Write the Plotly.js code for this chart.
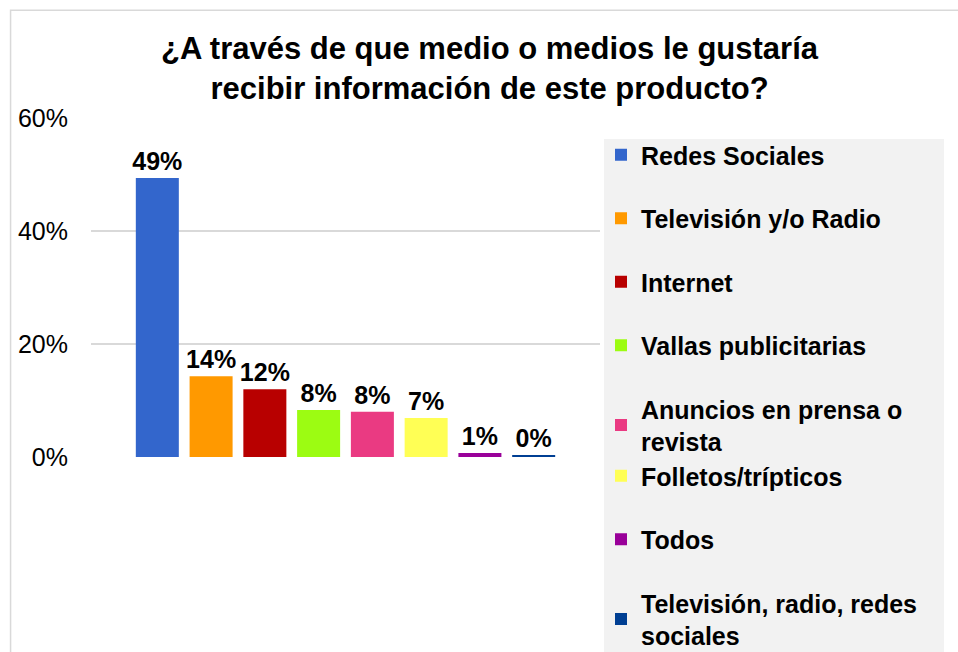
<!DOCTYPE html>
<html>
<head>
<meta charset="utf-8">
<script src="https://cdn.plot.ly/plotly-3.0.1.min.js"></script>
<style>
  html, body { margin: 0; padding: 0; background: #fff; }
  #chart { width: 958px; height: 652px; }
</style>
</head>
<body>
<div id="chart"></div>
<script>
// answers, in reading order of the legend
let categories = [
  "Redes Sociales",
  "Televisión y/o Radio",
  "Internet",
  "Vallas publicitarias",
  "Anuncios en prensa o<br>revista",
  "Folletos/trípticos",
  "Todos",
  "Televisión, radio, redes<br>sociales"
];
let percents = [49.4, 14.3, 12.0, 8.3, 8.0, 6.9, 0.7, 0.35];
let colors = ["#3366cc", "#ff9900", "#b80000", "#9cfc12", "#ea3a82", "#ffff55", "#990099", "#003f93"];
let y_ticks = [0, 20, 40, 60];
let y_tick_labels = ["0%", "20%", "40%", "60%"];

let font_family = "Liberation Sans, Arial, sans-serif";

let data = [];
for (let i = 0; i < categories.length; i++) {
  data.push({
    type: "bar",
    x: ["medio"],
    y: [percents[i]],
    name: categories[i],
    marker: { color: colors[i] },
    text: [Math.round(percents[i]) + "%"],
    textposition: "outside",
    constraintext: "none",
    cliponaxis: false,
    textfont: { family: font_family, size: 25, color: "#000", weight: "bold" },
    legendgroup: "g" + i,
    // last three answers go in a second legend so spacing stays even
    legend: i < 5 ? "legend" : "legend2",
    hoverinfo: "name+y"
  });
}

let legend_style = {
  bgcolor: "rgba(0,0,0,0)",
  font: { family: font_family, size: 25, color: "#000", weight: "bold" },
  traceorder: "grouped",
  tracegroupgap: 28,
  xref: "container",
  yref: "container",
  xanchor: "left",
  yanchor: "top",
  itemclick: false
};

var layout = {
  width: 958,
  height: 652,
  margin: { l: 91, r: 358, t: 118, b: 195 },
  paper_bgcolor: "#fff",
  plot_bgcolor: "rgba(0,0,0,0)",
  font: { family: font_family, color: "#000" },
  title: {
    text: "¿A través de que medio o medios le gustaría<br>recibir información de este producto?",
    font: { family: font_family, size: 31, color: "#000", weight: "bold" },
    xref: "container",
    yref: "container",
    x: 0.511,
    xanchor: "center",
    y: 1 - 59 / 652,
    yanchor: "top"
  },
  barmode: "group",
  bargap: 0.155,
  bargroupgap: 0.2,
  xaxis: {
    showticklabels: false,
    showgrid: false,
    zeroline: false,
    showline: false,
    ticks: ""
  },
  yaxis: {
    range: [0, 60],
    tickmode: "array",
    tickvals: y_ticks,
    ticktext: y_tick_labels,
    showgrid: true,
    gridcolor: "#d9d9d9",
    gridwidth: 1.5,
    zeroline: false,
    showline: false,
    ticks: "",
    ticklabelstandoff: 22,
    tickfont: { family: font_family, size: 25, color: "#000" }
  },
  legend: Object.assign({}, legend_style, { x: 601 / 958, y: 1 - 132 / 652 }),
  legend2: Object.assign({}, legend_style, { x: 601 / 958, y: 1 - 453 / 652 }),
  shapes: [
    {
      type: "rect",
      xref: "paper",
      yref: "paper",
      x0: -0.158,
      x1: 1.8,
      y0: -0.7,
      y1: 1.318,
      line: { color: "#d9d9d9", width: 1.5 },
      fillcolor: "rgba(0,0,0,0)",
      layer: "below"
    },
    {
      type: "rect",
      xref: "paper",
      yref: "paper",
      x0: 1.0079,
      x1: 1.6758,
      y0: -0.7,
      y1: 0.938,
      line: { width: 0 },
      fillcolor: "#f2f2f2",
      layer: "below"
    }
  ],
  showlegend: true
};

Plotly.newPlot("chart", data, layout, { displayModeBar: false, staticPlot: true });
</script>
</body>
</html>
